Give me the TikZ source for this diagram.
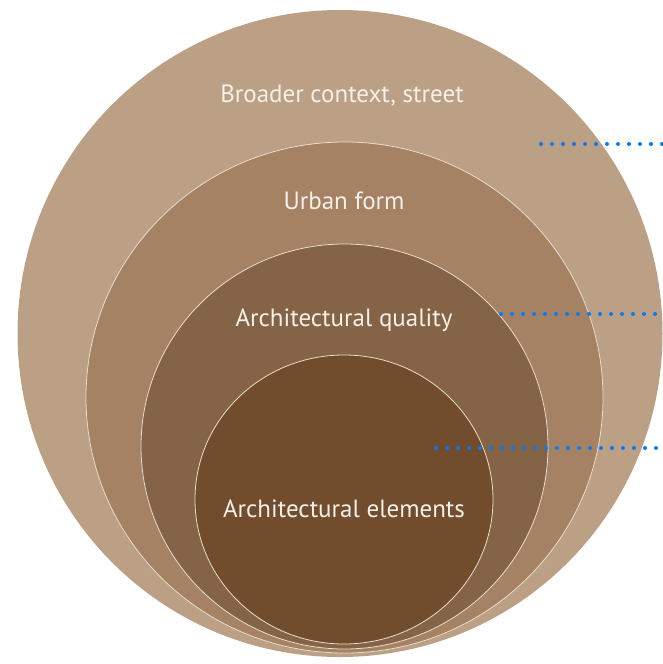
\documentclass[tikz,border=0pt]{standalone}
\usepackage{fontspec}
\setmainfont{PT Sans}
\usetikzlibrary{shapes.geometric}
\definecolor{ringA}{RGB}{187,160,133}
\definecolor{ringB}{RGB}{165,130,100}
\definecolor{ringC}{RGB}{133,99,70}
\definecolor{ringD}{RGB}{113,77,46}
\definecolor{ringline}{RGB}{232,220,203}
\definecolor{labelc}{RGB}{245,240,232}
\definecolor{dotblue}{RGB}{10,122,240}
\begin{document}
\begin{tikzpicture}[x=1pt,y=-1pt,
  ring/.style={ellipse, draw=ringline, line width=0.8pt, inner sep=0pt},
  lbl/.style={text=labelc, font=\fontsize{25}{29}\selectfont, inner sep=0pt},
  dots/.style={draw=dotblue, line width=4pt, line cap=round, dash pattern=on 0pt off 11pt}]
\useasboundingbox (0,0) rectangle (663,664);
\node[ring, draw=none, fill=ringA, minimum width=645pt, minimum height=647pt] (outer) at (340,333.5) {};
\node[ring, fill=ringB, minimum width=517pt, minimum height=511pt] (urban) at (344.5,397.5) {};
\node[ring, fill=ringC, minimum width=407pt, minimum height=405pt] (quality) at (344.5,446.5) {};
\node[ring, fill=ringD, minimum width=298pt, minimum height=289pt] (elements) at (344,499.5) {};
\node[lbl] (tA) at (342,96) {Broader context, street};
\node[lbl] (tB) at (344,201) {Urban form};
\node[lbl] (tC) at (344,320) {Architectural quality};
\node[lbl] (tD) at (344,509) {Architectural elements};
\coordinate (d1s) at (541,144);
\coordinate (d1e) at (663,144);
\coordinate (d2s) at (501,314);
\coordinate (d2e) at (663,314);
\coordinate (d3s) at (436,448);
\coordinate (d3e) at (663,448);
\draw[dots] (d1s) -- (d1e);
\draw[dots] (d2s) -- (d2e);
\draw[dots] (d3s) -- (d3e);
\end{tikzpicture}
\end{document}
